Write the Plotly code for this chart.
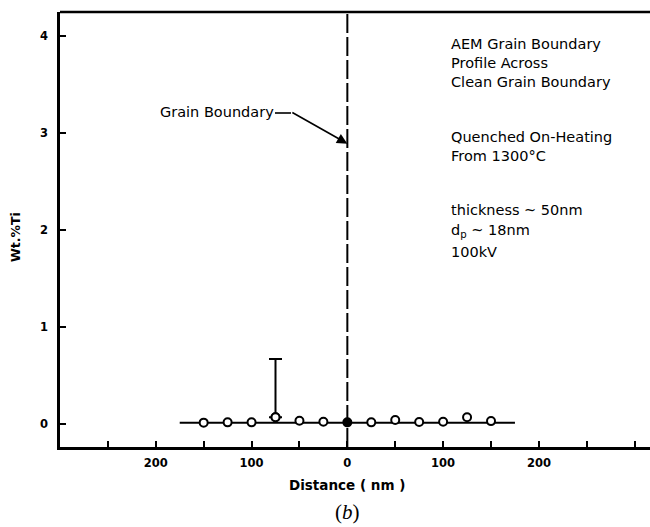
import plotly.graph_objects as go

# ---- data ----
distance_nm = [-150, -125, -100, -75, -50, -25, 0, 25, 50, 75, 100, 125, 150]
wt_ti = [0.014, 0.017, 0.017, 0.069, 0.034, 0.024, 0.017, 0.017, 0.041, 0.020, 0.024, 0.069, 0.030]
filled_flags = [False, False, False, False, False, False, True, False, False, False, False, False, False]

fit_x = [-175, 175]
fit_y = [0.013, 0.013]

errbar_x = [-75]
errbar_y = [0.069]
errbar_plus = [0.60]

x_tick_vals = [-200, -100, 0, 100, 200]
x_tick_text = ["200", "100", "0", "100", "200"]
x_minor_vals = [-250, -150, -50, 50, 150, 250, 300]
y_tick_vals = [0, 1, 2, 3, 4]
y_tick_text = ["0", "1", "2", "3", "4"]

boundary_x = 0
arrow_tip_y = 2.89
arrow_tail = (-59, 3.22)

# ---- layout helpers (pixel -> paper) ----
L, R, T, B = 60, 0, 12, 80
W, H = 650, 527
PW, PH = W - L - R, H - T - B


def px_x(px):
    return (px - L) / PW


def px_y(py):
    return (H - B - py) / PH


TXT = dict(family="DejaVu Sans", size=14.5, color="black")
BOLD = dict(family="DejaVu Sans", size=11.5, color="black", weight="bold")

fig = go.Figure()

# fit line
fig.add_trace(go.Scatter(x=fit_x, y=fit_y, mode="lines",
                         line=dict(color="black", width=2), showlegend=False, hoverinfo="skip"))

# open points
ox = [x for x, f in zip(distance_nm, filled_flags) if not f]
oy = [y for y, f in zip(wt_ti, filled_flags) if not f]
fig.add_trace(go.Scatter(x=ox, y=oy, mode="markers",
                         marker=dict(symbol="circle", size=8, color="white",
                                     line=dict(color="black", width=2)),
                         showlegend=False))
# filled point
fx = [x for x, f in zip(distance_nm, filled_flags) if f]
fy = [y for y, f in zip(wt_ti, filled_flags) if f]
fig.add_trace(go.Scatter(x=fx, y=fy, mode="markers",
                         marker=dict(symbol="circle", size=8, color="black",
                                     line=dict(color="black", width=2)),
                         showlegend=False))
# error bar (upper only)
fig.add_trace(go.Scatter(x=errbar_x, y=errbar_y, mode="markers",
                         marker=dict(symbol="circle", size=8, color="white",
                                     line=dict(color="black", width=2)),
                         error_y=dict(type="data", symmetric=False, array=errbar_plus,
                                      arrayminus=[0], color="black", thickness=2, width=6.5),
                         showlegend=False))

# dashed grain boundary line
fig.add_shape(type="line", xref="x", yref="paper", x0=boundary_x, x1=boundary_x, y0=0, y1=1,
              line=dict(color="black", width=2, dash="19px,4px"))
# top border
fig.add_shape(type="line", xref="paper", yref="paper", x0=0, x1=1, y0=1, y1=1,
              line=dict(color="black", width=2.5))

annotations = []
# Grain Boundary label + arrow
annotations.append(dict(x=px_x(158), y=px_y(112), xref="paper", yref="paper",
                        text="Grain Boundary", showarrow=False, xanchor="left",
                        yanchor="middle", font=TXT))
annotations.append(dict(x=boundary_x, y=arrow_tip_y, xref="x", yref="y",
                        ax=arrow_tail[0], ay=arrow_tail[1], axref="x", ayref="y",
                        text="", showarrow=True, arrowhead=2, arrowsize=1.3,
                        arrowwidth=1.6, arrowcolor="black"))
fig.add_shape(type="line", xref="paper", yref="paper",
              x0=px_x(275), x1=px_x(291), y0=px_y(113), y1=px_y(113),
              line=dict(color="black", width=1.6))

# right-hand text blocks
annotations.append(dict(x=px_x(449), y=px_y(63.5), xref="paper", yref="paper",
                        text="AEM Grain Boundary<br>Profile Across<br>Clean Grain Boundary",
                        showarrow=False, xanchor="left", yanchor="middle", align="left", font=TXT))
annotations.append(dict(x=px_x(449), y=px_y(146), xref="paper", yref="paper",
                        text="Quenched On-Heating<br>From 1300°C",
                        showarrow=False, xanchor="left", yanchor="middle", align="left", font=TXT))
annotations.append(dict(x=px_x(449), y=px_y(210), xref="paper", yref="paper",
                        text="thickness ~ 50nm", showarrow=False, xanchor="left",
                        yanchor="middle", font=TXT))
annotations.append(dict(x=px_x(449), y=px_y(231), xref="paper", yref="paper",
                        text="d<sub>p</sub> ~ 18nm", showarrow=False, xanchor="left",
                        yanchor="middle", font=TXT))
annotations.append(dict(x=px_x(449), y=px_y(252), xref="paper", yref="paper",
                        text="100kV", showarrow=False, xanchor="left",
                        yanchor="middle", font=TXT))

# axis titles
annotations.append(dict(x=0, y=px_y(485), xref="x", yref="paper",
                        text="Distance ( nm )", showarrow=False, xanchor="center",
                        yanchor="middle", font=dict(family="DejaVu Sans", size=13.5,
                                                    color="black", weight="bold")))
annotations.append(dict(x=px_x(16), y=px_y(237), xref="paper", yref="paper",
                        text="Wt.%Ti", textangle=-90, showarrow=False, xanchor="center",
                        yanchor="middle", font=dict(family="DejaVu Sans", size=12.5,
                                                    color="black", weight="bold")))
annotations.append(dict(x=0, y=px_y(512), xref="x", yref="paper",
                        text="(<i>b</i>)", showarrow=False, xanchor="center",
                        yanchor="middle", font=dict(family="Liberation Serif", size=21,
                                                    color="black")))

fig.update_layout(
    width=W, height=H,
    margin=dict(l=L, r=R, t=T, b=B, pad=0),
    paper_bgcolor="white", plot_bgcolor="white",
    showlegend=False,
    annotations=annotations,
    xaxis=dict(range=[-300, 316], showgrid=False, zeroline=False,
               showline=True, linecolor="black", linewidth=2.5,
               tickmode="array", tickvals=x_tick_vals, ticktext=x_tick_text,
               ticks="inside", ticklen=6, tickwidth=1.5, tickcolor="black",
               tickfont=BOLD, ticklabelstandoff=3,
               minor=dict(tickmode="array", tickvals=x_minor_vals, ticks="inside",
                          ticklen=6, tickwidth=1.5, tickcolor="black", showgrid=False)),
    yaxis=dict(range=[-0.237, 4.247], showgrid=False, zeroline=False,
               showline=True, linecolor="black", linewidth=2.5,
               tickmode="array", tickvals=y_tick_vals, ticktext=y_tick_text,
               ticks="inside", ticklen=6, tickwidth=1.5, tickcolor="black",
               tickfont=BOLD, ticklabelstandoff=7),
)

fig.write_html("out.html", config={"displayModeBar": False},
               post_script="document.body.style.margin='0';document.body.style.overflow='hidden';")
